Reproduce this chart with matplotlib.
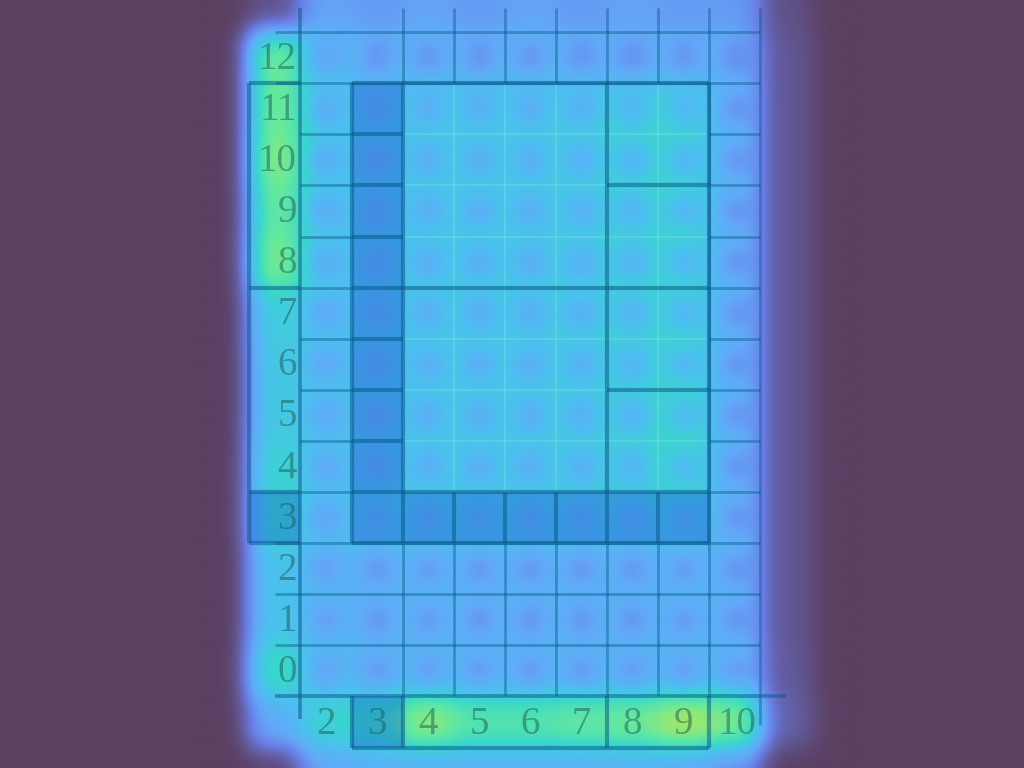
import numpy as np
import matplotlib.pyplot as plt
from matplotlib.colors import LinearSegmentedColormap
from matplotlib.patches import Rectangle

# grid labels
COL_LABELS = [2, 3, 4, 5, 6, 7, 8, 9, 10]
ROW_LABELS = list(range(13))

# attention per cell, rows r = 13 (top) .. -2 (bottom), columns c = 0 .. 12
# (c = 1 is the row label column, r = -1 is the column label row)
HEAT = np.array([
    [0.00, 0.06, 0.27, 0.25, 0.27, 0.25, 0.27, 0.25, 0.27, 0.25, 0.25, 0.05, 0.00],  # 13
    [0.00, 0.60, 0.36, 0.31, 0.32, 0.31, 0.32, 0.31, 0.30, 0.31, 0.30, 0.07, 0.00],  # 12
    [0.00, 0.60, 0.40, 0.38, 0.41, 0.41, 0.41, 0.42, 0.45, 0.46, 0.32, 0.07, 0.00],  # 11
    [0.00, 0.63, 0.40, 0.38, 0.41, 0.41, 0.41, 0.42, 0.45, 0.46, 0.32, 0.07, 0.00],  # 10
    [0.00, 0.58, 0.40, 0.38, 0.41, 0.41, 0.41, 0.42, 0.44, 0.46, 0.32, 0.07, 0.00],  # 9
    [0.00, 0.62, 0.40, 0.38, 0.41, 0.41, 0.41, 0.42, 0.44, 0.46, 0.32, 0.07, 0.00],  # 8
    [0.00, 0.44, 0.38, 0.38, 0.41, 0.41, 0.41, 0.42, 0.44, 0.46, 0.32, 0.07, 0.00],  # 7
    [0.00, 0.42, 0.38, 0.38, 0.41, 0.41, 0.41, 0.42, 0.44, 0.46, 0.32, 0.07, 0.00],  # 6
    [0.00, 0.42, 0.38, 0.38, 0.41, 0.41, 0.41, 0.42, 0.44, 0.48, 0.32, 0.07, 0.00],  # 5
    [0.00, 0.46, 0.38, 0.38, 0.41, 0.41, 0.41, 0.42, 0.44, 0.48, 0.32, 0.07, 0.00],  # 4
    [0.00, 0.48, 0.36, 0.41, 0.41, 0.41, 0.41, 0.41, 0.41, 0.43, 0.32, 0.07, 0.00],  # 3
    [0.00, 0.40, 0.34, 0.32, 0.33, 0.32, 0.32, 0.32, 0.32, 0.33, 0.32, 0.07, 0.00],  # 2
    [0.00, 0.40, 0.34, 0.32, 0.33, 0.32, 0.32, 0.32, 0.32, 0.33, 0.32, 0.07, 0.00],  # 1
    [0.00, 0.50, 0.36, 0.33, 0.34, 0.33, 0.33, 0.33, 0.33, 0.34, 0.34, 0.08, 0.00],  # 0
    [0.00, 0.30, 0.46, 0.50, 0.64, 0.55, 0.55, 0.58, 0.60, 0.68, 0.62, 0.10, 0.00],  # -1
    [0.00, 0.02, 0.28, 0.32, 0.32, 0.32, 0.32, 0.32, 0.32, 0.30, 0.22, 0.00, 0.00],  # -2
])
HEAT_TOP, HEAT_LEFT = 13, 0

BOX_COLS = (3, 9)
BOX_ROWS = (3, 11)
SHADED = [(3, r) for r in range(4, 12)] + [(c, 3) for c in range(3, 10)] + [(1, 3), (3, -1)]

BG = '#5b4062'
LINE = '#0b5a8c'
heat_cmap = LinearSegmentedColormap.from_list('heat', [
    (0.00, '#5b4062'), (0.10, '#6462ac'), (0.18, '#6a80e8'), (0.28, '#62a8f8'),
    (0.38, '#4cbff0'), (0.48, '#38d8cc'), (0.58, '#62e8a0'), (0.68, '#a8e860'),
    (0.80, '#d2e040'), (1.00, '#f0e030')])


def smooth(a, s):
    k = np.exp(-0.5 * (np.arange(-3 * s, 3 * s + 1) / s) ** 2)
    k /= k.sum()
    p = len(k) // 2
    a = np.pad(a, p, mode='edge')
    a = np.apply_along_axis(lambda v: np.convolve(v, k, 'valid'), 0, a)
    a = np.apply_along_axis(lambda v: np.convolve(v, k, 'valid'), 1, a)
    return a


def seg(x0, y0, x1, y1, lw=2.0, a=0.45, color=LINE):
    ax.plot([x0, x1], [y0, y1], color=color, lw=lw, alpha=a, solid_capstyle='butt')


fig = plt.figure(figsize=(10.24, 7.68), dpi=100)
fig.patch.set_facecolor(BG)
ax = fig.add_axes([0, 0, 1, 1])
ax.set_facecolor(BG)
ax.axis('off')

# heat map, a softer dip in the centre of every grid cell
n = 20
nr, nc = HEAT.shape
yy, xx = np.mgrid[0:n, 0:n]
bump = np.exp(-((xx - 9.5) ** 2 + (yy - 9.5) ** 2) / (2 * 5.0 ** 2))
in_grid = np.zeros(HEAT.shape)
in_grid[HEAT_TOP - ROW_LABELS[-1]:HEAT_TOP - ROW_LABELS[0] + 1,
        COL_LABELS[0] - HEAT_LEFT:COL_LABELS[-1] - HEAT_LEFT + 1] = 1
fine = smooth(np.kron(HEAT, np.ones((n, n))), 5)
fine = fine * (1 - 0.22 * np.kron(in_grid, bump))
ax.imshow(fine, cmap=heat_cmap, vmin=0, vmax=1, interpolation='bilinear',
          extent=(HEAT_LEFT - 0.5, HEAT_LEFT + nc - 0.5, HEAT_TOP - nr + 0.5, HEAT_TOP + 0.5),
          origin='upper', zorder=1)

for c, r in SHADED:
    ax.add_patch(Rectangle((c - 0.5, r - 0.5), 1, 1, color='#0a40c0', alpha=0.3, lw=0, zorder=2))

c0, c1 = COL_LABELS[0] - 0.5, COL_LABELS[-1] + 0.5
r0, r1 = ROW_LABELS[0] - 0.5, ROW_LABELS[-1] + 0.5
top = r1 + 0.47
bl, br = BOX_COLS[0] - 0.5, BOX_COLS[1] + 0.5
bb, bt = BOX_ROWS[0] - 0.5, BOX_ROWS[1] + 0.5

# plain grid lines
for c in COL_LABELS[1:]:
    x = c + 0.5
    if bl < x < br:
        seg(x, bt, x, top)
        seg(x, r0, x, bb)
    else:
        seg(x, r0, x, top)
seg(c1, r0 - 0.55, c1, r0)
for r in ROW_LABELS:
    y = r - 0.5
    if bb < y < bt:
        seg(c0, y, bl, y)
        seg(br, y, c1, y)
    elif y > r0:
        seg(c0 - 0.5, y, c1, y)
seg(c0 - 0.5, r1, c1, r1)

# axes
seg(c0, r0 - 0.45, c0, top, lw=2.6, a=0.55)
seg(c0 - 0.5, r0, c1 + 0.5, r0, lw=2.6, a=0.55)

# light lines inside the box
for c in [4, 5, 6]:
    seg(c + 0.5, bb + 1, c + 0.5, bt, lw=1.5, a=0.12, color='white')
for r in range(4, 11):
    if r != 7:
        seg(bl + 1, r + 0.5, 7.5, r + 0.5, lw=1.5, a=0.12, color='white')
seg(8.5, bb + 1, 8.5, bt, lw=1.5, a=0.12, color='white')
for r in [4, 6, 8, 10]:
    seg(7.5, r + 0.5, br, r + 0.5, lw=1.5, a=0.12, color='white')

# thick outlines
tk = dict(lw=3.0, a=0.55)
for x0, y0, x1, y1 in [(bl, bb, br, bb), (bl, bt, br, bt), (bl, bb, bl, bt), (br, bb, br, bt),
                       (bl + 1, bb, bl + 1, bt), (bl, bb + 1, br, bb + 1),
                       (7.5, bb + 1, 7.5, bt), (bl + 1, 7.5, br, 7.5),
                       (7.5, 9.5, br, 9.5), (7.5, 5.5, br, 5.5)]:
    seg(x0, y0, x1, y1, **tk)
for r in range(4, 11):
    seg(bl, r + 0.5, bl + 1, r + 0.5, **tk)
for c in range(4, 9):
    seg(c + 0.5, bb, c + 0.5, bb + 1, **tk)
# row label column box
seg(0.5, bb, 0.5, bt, **tk)
seg(0.5, bb, c0, bb, **tk)
seg(0.5, bt, c0, bt, **tk)
seg(0.5, 7.5, c0, 7.5, **tk)
seg(0.5, 3.5, c0, 3.5, **tk)
# column label row box
seg(bl, -1.5, br, -1.5, **tk)
seg(bl, -1.5, bl, r0, **tk)
seg(br, -1.5, br, r0, **tk)
seg(3.5, -1.5, 3.5, r0, **tk)
seg(7.5, -1.5, 7.5, r0, **tk)

txt = dict(fontsize=28, family=['Liberation Serif', 'DejaVu Serif'], color='#1a5a50', alpha=0.5,
           va='center', zorder=5)
for r in ROW_LABELS:
    ax.text(1.43, r - 0.03, str(r), ha='right', **txt)
for c in COL_LABELS:
    ax.text(c + 0.04 * (c == 10), -1.05, str(c), ha='center', **txt)

ax.set_xlim(-4.38, 15.66)
ax.set_ylim(-1.90, 13.13)
fig.savefig('out.png', dpi=100, facecolor=BG)
